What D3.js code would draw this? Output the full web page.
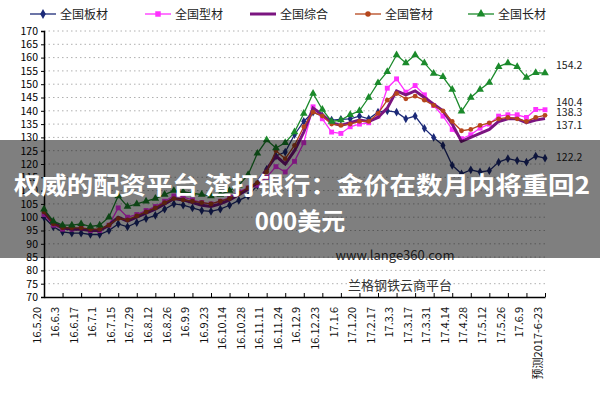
<!DOCTYPE html>
<html><head><meta charset="utf-8">
<script src="https://cdn.jsdelivr.net/npm/d3@7"></script>
<style>body{margin:0;background:#fff}text{font-family:"Noto Sans CJK SC","Liberation Sans",sans-serif}</style>
</head><body><svg id="c" width="600" height="400"></svg>
<script>
const xLabels=["16.5.20","16.6.3","16.6.17","16.7.1","16.7.15","16.7.29","16.8.12","16.8.26","16.9.9","16.9.23","16.10.14","16.10.28","16.11.11","16.11.24","16.12.9","16.12.23","17.1.6","17.1.20","17.2.17","17.3.3","17.3.17","17.3.31","17.4.14","17.4.28","17.5.12","17.5.26","17.6.9","预测2017-6-23"];
const yTicks=d3.range(70,171,5);
const seriesNames=["全国板材","全国型材","全国综合","全国管材","全国长材"];
const plate=[100,96.4,94.5,94,94,93.5,93.5,95,97.5,96.4,98,99.5,100.7,103,105,104.5,103.5,102.5,102.2,103,104.5,106.3,108,112,118,123,124.5,131,136,139.5,138,136.5,136.8,137,138,137,139.5,140,139.5,137,138,133.4,130,127,119.5,116.3,117.8,117,117.5,120.7,122,121.3,120.7,123,122.2];
const section=[101,97,95.5,95.5,96,95,95,97,103.5,100,101,102.5,104,106,108,107.5,106.5,105.5,105,106,107.5,109.5,111,112,115,119,117,121,128,141.5,137,132,131.5,134,135,135.5,138,148.5,152,147,149.5,146,142,138,133,129.5,131,133.5,135,138,138.5,138.5,137.5,140.5,140.4];
const composite=[102,98,96,95.5,95.5,95,95,97,100,98.5,100,101.5,103,105,107,106.5,105.5,104.5,104,105,106.5,108.5,110.5,113,118,123,120,125,132,141,138.5,135.5,134.5,135.5,136.5,136,137.5,141,147.5,146,147.5,145,142.5,140,135,128.5,130,131.5,133,136,137,137,135.5,136.5,137.1];
const pipe=[102,97.5,96,96,96,95.5,95.5,97,99.5,99,100.5,102,103.5,105.5,107,106.5,106,105.5,105,106,107,109,111,113,117,125,122,127,134,139.5,138,135,134.5,135,136,136,139,144,146.5,144.5,145.5,144,142,140,136,132.5,133,134.5,135.5,137,137.5,137,136,137.5,138.3];
const longp=[103,98.5,97,97,97.5,96.5,97,100,108,104,105,106,107,108.5,110,109.5,109,108.5,108,108.5,110,112,116,124,129,126,128,132,139,146.5,140.5,136,136.5,138.5,140,145,150.5,154.7,161,158,161,158,154,152.8,148,139.8,145,148,150.6,156.6,158,156.6,152.5,154.3,154.2];
const endLabels=[["154.2",154.2,4],["140.4",140.4,4],["138.3",138.3,-1],["137.1",137.1,-10],["122.2",122.2,-3]];
const data=[plate,section,composite,pipe,longp];
const colors=["#1c2a78","#ff30ff","#7b1580","#b5461c","#1b8a2b"];
const markers=["diamond","square",null,"circle","triangle"];

const svg=d3.select("#c");
const L=44,R=545,T=31,B=297;
const x=d3.scaleLinear().domain([0,plate.length-1]).range([L,R]);
const y=d3.scaleLinear().domain([70,170]).range([B,T]);
const xl=d3.scalePoint().domain(xLabels).range([L,R]);

svg.append("g").selectAll("line").data(yTicks.filter(d=>d>70)).join("line")
 .attr("x1",L).attr("x2",R).attr("y1",d=>y(d)).attr("y2",d=>y(d))
 .attr("stroke","#b0b0b0").attr("stroke-dasharray","1.5,3");
const ya=svg.append("g").attr("transform",`translate(${L},0)`).call(d3.axisLeft(y).tickValues(yTicks).tickSize(3).tickPadding(3));
ya.selectAll("text").attr("font-size",10.5).attr("font-family","Liberation Sans Narrow,Liberation Sans").attr("fill","#000");
const xa=svg.append("g").attr("transform",`translate(0,${B})`).call(d3.axisBottom(xl).tickSize(-4).tickSizeOuter(0));
xa.selectAll("text").attr("font-size",11).attr("fill","#111").attr("font-family","Liberation Sans")
 .attr("transform","rotate(-90)").attr("text-anchor","end").attr("dx","-6").attr("dy","-0.35em").attr("y",0).attr("x",-4);
svg.selectAll(".domain").attr("stroke","#000").attr("stroke-width",1.5);

const sym={diamond:d3.symbolDiamond,square:d3.symbolSquare,circle:d3.symbolCircle,triangle:d3.symbolTriangle};
const size={diamond:22,square:24,circle:18,triangle:26};
const line=d3.line().x((d,i)=>x(i)).y(d=>y(d));
data.forEach((s,k)=>{
 const g=svg.append("g");
 g.append("path").datum(s).attr("d",line).attr("fill","none").attr("stroke",colors[k]).attr("stroke-width",k==2?3:1.3);
 if(markers[k]) g.selectAll("path.m").data(s).join("path").attr("class","m")
   .attr("transform",(d,i)=>`translate(${x(i)},${y(d)})`).attr("d",d3.symbol(sym[markers[k]],size[markers[k]])).attr("fill",colors[k]);
});
const lx=[30,145,250,355,468];
seriesNames.forEach((n,k)=>{
 const g=svg.append("g").attr("transform",`translate(${lx[k]},14)`);
 g.append("line").attr("x1",0).attr("x2",26).attr("stroke",colors[k]).attr("stroke-width",k==2?3:1.3);
 if(markers[k]) g.append("path").attr("transform","translate(13,0)").attr("d",d3.symbol(sym[markers[k]],size[markers[k]]+6)).attr("fill",colors[k]);
 g.append("text").attr("x",30).attr("y",4.5).attr("font-size",12).attr("fill","#222").text(n);
});
endLabels.forEach(([t,v,dy])=>svg.append("text").attr("x",556).attr("y",y(v)-dy).attr("font-size",10.5).attr("fill","#222").attr("font-family","Liberation Sans").text(t));
svg.append("text").attr("x",395).attr("y",260).attr("text-anchor","middle").attr("font-size",13).attr("fill","#333").text("www.lange360.com");
svg.append("text").attr("x",400).attr("y",290).attr("text-anchor","middle").attr("font-size",13).attr("fill","#333").text("兰格钢铁云商平台");
svg.append("rect").attr("x",0).attr("y",140).attr("width",600).attr("height",118).attr("fill","rgba(0,0,0,0.5)");
svg.append("text").attr("x",14).attr("y",194).attr("textLength",576).attr("lengthAdjust","spacingAndGlyphs").attr("font-size",24).attr("font-weight","bold").attr("fill","#fff").text("权威的配资平台 渣打银行：金价在数月内将重回2");
svg.append("text").attr("x",300).attr("y",230).attr("text-anchor","middle").attr("font-size",24).attr("font-weight","bold").attr("fill","#fff").text("000美元");
</script></body></html>
